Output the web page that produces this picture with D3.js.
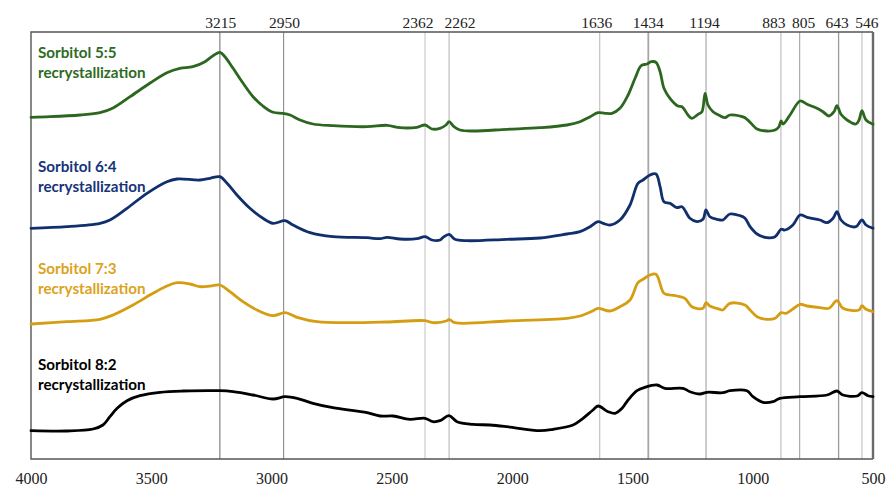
<!DOCTYPE html>
<html>
<head>
<meta charset="utf-8">
<script src="https://cdn.jsdelivr.net/npm/d3@7/dist/d3.min.js"></script>
<style>
  html, body { margin: 0; padding: 0; background: #ffffff; }
  svg { display: block; }
</style>
</head>
<body>
<svg id="chart" width="886" height="486"></svg>
<script>
// FTIR spectra of sorbitol recrystallized at different ratios (stacked, arbitrary offset units)
const xTicks = [4000, 3500, 3000, 2500, 2000, 1500, 1000, 500];
const peakMarks = [3215, 2950, 2362, 2262, 1636, 1434, 1194, 883, 805, 643, 546];

const seriesNames = ["Sorbitol 5:5", "Sorbitol 6:4", "Sorbitol 7:3", "Sorbitol 8:2"];
const seriesSubtitle = "recrystallization";

// [wavenumber cm-1, signal (a.u.)]
const spectrum55 = [
  [4000,341.7],[3921,342.3],[3796,344],[3713,346.3],[3659,351],[3588,362.3],[3505,376],
  [3435,386.3],[3381,390.7],[3327,392.3],[3277,397.3],[3239,404],[3215,406.7],[3194,402.3],
  [3160,390.7],[3119,376],[3077,362.3],[3036,353],[2994,346.7],[2953,345.7],[2923,344],
  [2882,339],[2828,335],[2745,333.3],[2603,332.3],[2520,333.7],[2466,331.3],[2396,331.7],
  [2362,334],[2333,330],[2300,330.7],[2275,334],[2262,337.3],[2242,332.3],[2217,329],
  [2163,328],[2021,329.7],[1884,331.3],[1772,334],[1718,337.3],[1676,342.3],[1643,346.3],
  [1614,345.7],[1585,345.7],[1552,350.7],[1518,364],[1489,380.7],[1464,393.3],[1439,395],
  [1422,397.3],[1402,396.7],[1385,387.3],[1369,370.7],[1344,360.7],[1311,353],[1294,352.3],
  [1269,344],[1253,340.7],[1227,344.7],[1211,347.3],[1198,365.7],[1186,354],[1165,347.3],
  [1136,343.3],[1115,341.3],[1095,344],[1053,343],[1032,341.3],[1007,335.7],[982,330],
  [941,328],[907,329],[891,332.3],[882,338],[874,335],[845,344],[803,358],[774,354.7],
  [733,350.7],[708,347.3],[683,343],[662,347.3],[650,353.3],[633,344.7],[608,339],
  [571,335],[558,339],[546,348.3],[529,339],[500,334.7]
];

const spectrum64 = [
  [4000,230.7],[3850,232.3],[3713,235.7],[3672,239],[3601,250.7],[3518,265.7],[3435,277.3],
  [3393,280],[3298,279],[3256,280.7],[3215,282.3],[3185,275.7],[3144,264],[3090,250.7],
  [3036,240.7],[2994,235.7],[2944,238.3],[2911,234],[2840,226.3],[2745,222.3],[2603,221.3],
  [2549,220.3],[2520,221.7],[2466,220],[2396,220.3],[2362,222.3],[2333,219],[2300,219],
  [2287,221.7],[2262,224.7],[2238,219.7],[2188,218.3],[2021,219.7],[1884,221],[1772,225],
  [1718,227.3],[1676,232.3],[1643,237.3],[1622,235.7],[1593,234],[1552,239],[1510,254],
  [1477,275.7],[1456,279],[1427,284],[1402,285],[1385,272.3],[1369,257.3],[1344,255.7],
  [1315,251.3],[1294,252.3],[1261,240.7],[1232,237.3],[1207,239.7],[1194,249],[1178,242.3],
  [1148,239.7],[1124,239],[1095,245],[1053,243.3],[1032,240.7],[1011,232.3],[982,225],
  [941,221.3],[907,222.3],[882,229.7],[866,229],[833,234],[803,244],[774,241.7],[720,239],
  [691,236.3],[666,240.7],[650,247.3],[633,239],[608,234],[571,232.3],[546,239],[529,234],
  [500,230.7]
];

const spectrum73 = [
  [4000,135],[3850,137.3],[3713,139.7],[3659,144],[3576,154],[3493,165.7],[3435,173],
  [3393,176.3],[3339,175],[3298,172.3],[3243,173.3],[3215,174],[3173,167.3],[3119,157.3],
  [3061,149],[2994,143.3],[2944,146.3],[2894,141.7],[2811,137.3],[2674,136.3],[2520,137],
  [2362,138.3],[2329,136.3],[2271,138.3],[2262,139.7],[2238,136.3],[2021,138],[1772,140.7],
  [1718,143],[1664,148.3],[1643,150.7],[1593,148],[1552,152.3],[1510,159],[1477,176.3],
  [1456,179.7],[1427,184],[1402,184.7],[1369,165.7],[1344,164],[1315,163],[1282,160.7],
  [1253,152.3],[1207,150.7],[1194,156.3],[1178,153],[1136,149.7],[1124,149],[1095,155.7],
  [1032,154],[1011,149],[982,142.3],[941,139.7],[907,140.7],[882,146.3],[862,145.7],
  [833,150],[803,154.7],[774,153],[720,151.3],[683,150.7],[650,158.3],[625,150.7],
  [558,149],[546,153.3],[529,149.7],[500,147.3]
];

const spectrum82 = [
  [4000,28.3],[3850,28],[3742,30],[3701,34],[3672,42.3],[3642,50.7],[3601,58.3],[3547,63.3],
  [3464,66.7],[3368,68],[3215,68.3],[3160,67.3],[3077,64],[2994,60],[2944,62.3],[2894,60.7],
  [2828,55.7],[2745,51.3],[2603,46.3],[2549,43],[2495,43],[2425,39.7],[2362,40.7],[2329,37.3],
  [2300,38.3],[2262,43.3],[2229,37.3],[2163,34.7],[2092,34],[2021,32.3],[1884,28.3],[1830,29.7],
  [1747,34],[1718,38.3],[1664,49],[1643,53],[1601,47.3],[1572,45.7],[1543,50.7],[1518,59],
  [1481,68.3],[1448,71.7],[1398,74],[1365,70.7],[1290,70.7],[1261,67.3],[1219,65],[1190,66.7],
  [1124,66.3],[1095,68.3],[1024,68.3],[999,62.3],[957,56.7],[916,57.3],[887,60.7],[803,62.3],
  [691,64],[650,68],[625,64],[566,63],[546,66.3],[521,63.3],[500,62.3]
];

const seriesData = [spectrum55, spectrum64, spectrum73, spectrum82];

const svg = d3.select("#chart");
const plot = { left: 31, right: 873, top: 32, bottom: 459 };

const x = d3.scaleLinear().domain([4000, 500]).range([plot.left, plot.right]);
const y = d3.scaleLinear().domain([0, 427]).range([plot.bottom, plot.top]);

// vertical marker lines: colour, width, label nudge so neighbouring labels don't collide
const markStyle = {
  3215: ["#8c8c8c", 1.3, 1],  2950: ["#8c8c8c", 1.1, 1],  2362: ["#cfcfcf", 1.3, -7],
  2262: ["#bdbdbd", 1.2, 11], 1636: ["#bdbdbd", 1.1, -3], 1434: ["#a6a6a6", 1.8, 0],
  1194: ["#b0b0b0", 1.3, -1.5], 883: ["#cccccc", 1.5, -7], 805: ["#acacac", 1.2, 4],
  643: ["#9a9a9a", 1.3, -1.5], 546: ["#d0d0d0", 1.5, 5]
};

svg.append("g").selectAll("line").data(peakMarks).join("line")
  .attr("x1", d => x(d)).attr("x2", d => x(d))
  .attr("y1", plot.top).attr("y2", plot.bottom)
  .attr("stroke", d => markStyle[d][0])
  .attr("stroke-width", d => markStyle[d][1]);

// band labels above the frame
svg.append("g").selectAll("text").data(peakMarks).join("text")
  .attr("x", d => x(d) + markStyle[d][2]).attr("y", 28)
  .attr("text-anchor", "middle")
  .attr("font-family", "'Liberation Serif', 'DejaVu Serif', serif")
  .attr("font-size", 15.5)
  .attr("fill", "#222")
  .text(d => d);

// bottom axis (labels only, no tick marks)
const axis = d3.axisBottom(x).tickValues(xTicks).tickSize(0).tickPadding(0).tickFormat(d3.format("d"));
const gAxis = svg.append("g").attr("transform", `translate(0,${plot.bottom})`).call(axis);
gAxis.select(".domain").remove();
gAxis.selectAll("text")
  .attr("y", 25).attr("dy", 0)
  .attr("font-family", "'Liberation Serif', 'DejaVu Serif', serif")
  .attr("font-size", 16)
  .attr("fill", "#222");

// frame
const frame = svg.append("g").attr("fill", "none");
frame.append("path")
  .attr("d", `M${plot.right},${plot.top}H${plot.left}V${plot.bottom}H${plot.right}`)
  .attr("stroke", "#555").attr("stroke-width", 1.4);
frame.append("line")
  .attr("x1", plot.right).attr("x2", plot.right)
  .attr("y1", plot.top).attr("y2", plot.bottom)
  .attr("stroke", "#6a6a6a").attr("stroke-width", 2.4);

// spectra
const lineColors = ["#2c661f", "#102f6c", "#d59d12", "#000000"];
const labelColors = ["#2e6b1f", "#17347a", "#dba31c", "#000000"];
const line = d3.line()
  .x(d => x(d[0])).y(d => y(d[1]))
  .curve(d3.curveCatmullRom.alpha(0.5));

svg.append("g").selectAll("path").data(seriesData).join("path")
  .attr("d", line)
  .attr("fill", "none")
  .attr("stroke", (d, i) => lineColors[i])
  .attr("stroke-width", 2.8)
  .attr("stroke-linejoin", "round")
  .attr("stroke-linecap", "round");

// series labels
const labelBaselines = [57.5, 172, 273.5, 369.5];
const labels = svg.append("g")
  .attr("font-family", "Lato, 'Open Sans', sans-serif")
  .attr("font-weight", "bold")
  .attr("font-size", 15.2);
seriesNames.forEach((name, i) => {
  const t = labels.append("text").attr("fill", labelColors[i]);
  t.append("tspan").attr("x", 38).attr("y", labelBaselines[i]).text(name);
  t.append("tspan").attr("x", 38).attr("y", labelBaselines[i] + 20).text(seriesSubtitle);
});
</script>
</body>
</html>
